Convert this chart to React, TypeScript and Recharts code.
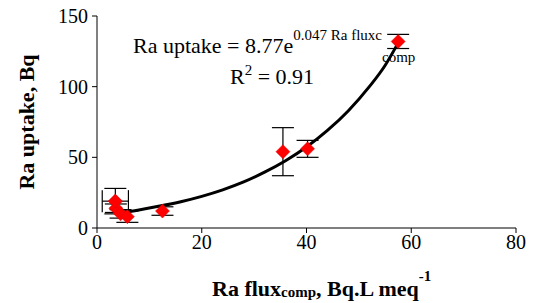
import {
  ComposedChart,
  ErrorBar,
  Line,
  Scatter,
  XAxis,
  YAxis,
} from "recharts";

// measured points: Ra flux (comp) vs Ra uptake, with error bars
const flux = [3.5, 3.6, 4.5, 5.8, 12.5, 35.5, 40.2, 57.5];
const uptake = [19, 14, 10, 8, 12, 54, 56, 132];
const uptakeErr = [9, 3, 3, 4, 3, 17, 6, 5];
// only the first point has a horizontal error bar
const fluxErrFirst = 2.5;

// fitted exponential trend
const curveX = [3.8, 8, 12, 16, 20, 24, 28, 32, 36, 40, 44, 48, 52, 55, 57.5];
const curveY = [10.5, 12.8, 15.5, 18.6, 22.4, 27, 32.6, 39.5, 47.6, 57.3, 69, 83, 100, 115, 131];

const xTicks = [0, 20, 40, 60, 80];
const yTicks = [0, 50, 100, 150];

const points = flux.map((x, i) => ({ x, y: uptake[i], yErr: uptakeErr[i] }));
const firstPoint = [{ x: flux[0], y: uptake[0], xErr: fluxErrFirst }];
const curve = curveX.map((x, i) => ({ x, y: curveY[i] }));

const FONT = "Liberation Serif";

const Diamond = (props: any) => {
  const { cx, cy } = props;
  if (cx == null || cy == null) return null;
  const r = 7;
  return (
    <path
      d={`M${cx},${cy - r}L${cx + r},${cy}L${cx},${cy + r}L${cx - r},${cy}Z`}
      fill="#ff0000"
      stroke="#e00000"
      strokeWidth={0.5}
    />
  );
};

export default function App() {
  const tick = { fill: "#000", fontSize: 20, fontFamily: FONT };
  return (
    <div
      style={{
        position: "absolute",
        left: 0,
        top: 0,
        width: 558,
        height: 303,
        background: "#fff",
        fontFamily: FONT,
      }}
    >
      <ComposedChart
        width={558}
        height={303}
        margin={{ top: 16, right: 42, bottom: 45, left: 37 }}
      >
        <XAxis
          type="number"
          dataKey="x"
          domain={[0, 80]}
          ticks={xTicks}
          tick={tick}
          tickSize={5}
          stroke="#000"
          allowDataOverflow
        />
        <YAxis
          type="number"
          dataKey="y"
          domain={[0, 150]}
          ticks={yTicks}
          tick={tick}
          tickSize={5}
          tickMargin={4}
          width={60}
          stroke="#000"
          allowDataOverflow
        />
        <Scatter data={points} shape={<Diamond />} isAnimationActive={false}>
          <ErrorBar dataKey="yErr" direction="y" width={11} stroke="#000" strokeWidth={1.2} />
        </Scatter>
        <Scatter data={firstPoint} shape={<Diamond />} isAnimationActive={false}>
          <ErrorBar dataKey="xErr" direction="x" width={11} stroke="#000" strokeWidth={1.2} />
        </Scatter>
        <Line
          data={curve}
          dataKey="y"
          type="monotone"
          stroke="#000"
          strokeWidth={3}
          dot={false}
          activeDot={false}
          isAnimationActive={false}
        />
      </ComposedChart>

      <svg
        width={558}
        height={303}
        style={{ position: "absolute", left: 0, top: 0, pointerEvents: "none" }}
        fontFamily={FONT}
      >
        <text x={133} y={53} fontSize={22} fill="#000">
          Ra uptake = 8.77e
          <tspan fontSize={15} dy={-13}>0.047 Ra fluxc</tspan>
          <tspan fontSize={15} dy={22}>comp</tspan>
        </text>
        <text x={230} y={84} fontSize={22} fill="#000">
          R<tspan fontSize={15} dy={-9}>2</tspan>
          <tspan dy={9}> = 0.91</tspan>
        </text>
        <text
          transform="translate(34,122) rotate(-90)"
          textAnchor="middle"
          fontSize={22}
          fontWeight="bold"
          fill="#000"
        >
          Ra uptake, Bq
        </text>
        <text x={212} y={296} fontSize={22} fontWeight="bold" fill="#000">
          Ra flux
          <tspan fontSize={15} dy={1}>comp</tspan>
          <tspan dy={-1}>, Bq.L meq</tspan>
          <tspan fontSize={15} dy={-15}>-1</tspan>
        </text>
      </svg>
    </div>
  );
}
